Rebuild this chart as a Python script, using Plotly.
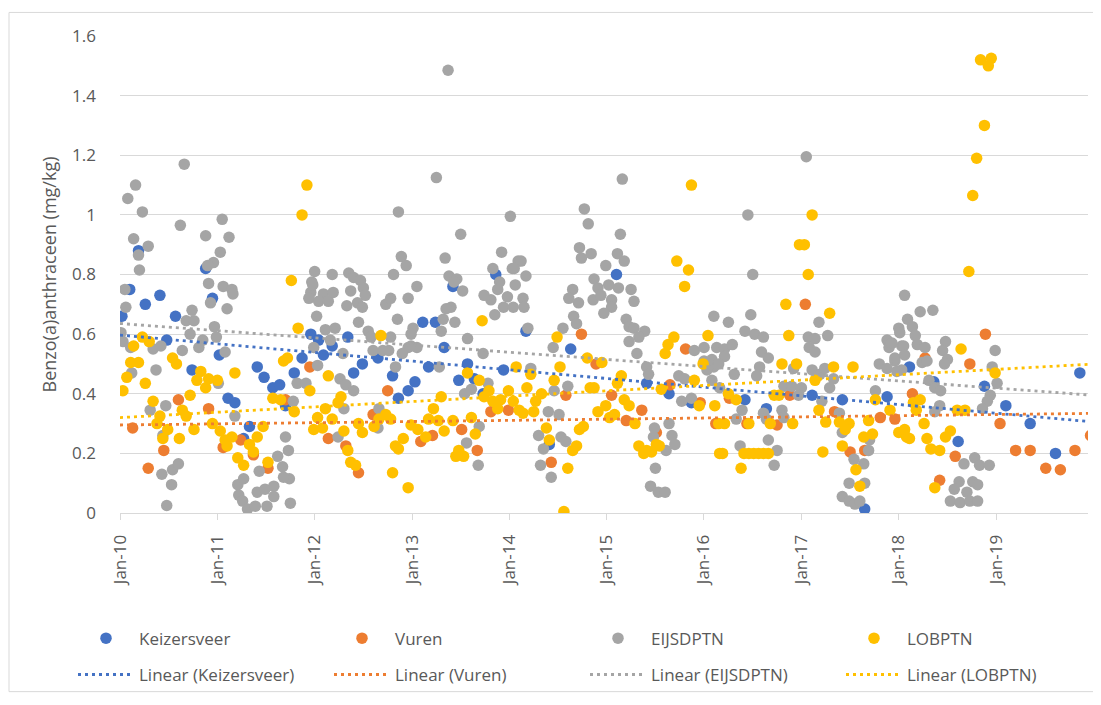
import numpy as np
import pandas as pd
import plotly.graph_objects as go

# ---------------- data (decimal year, mg/kg) ----------------
KEIZ_YEAR = [2010.02, 2010.10, 2010.19, 2010.26, 2010.41, 2010.48, 2010.57, 2010.74, 2010.88, 2010.95,
             2011.02, 2011.11, 2011.18, 2011.27, 2011.33, 2011.41, 2011.48, 2011.57, 2011.64, 2011.70,
             2011.79, 2011.87, 2011.96, 2012.04, 2012.09, 2012.18, 2012.34, 2012.40, 2012.49, 2012.65,
             2012.80, 2012.86, 2012.96, 2013.03, 2013.11, 2013.17, 2013.24, 2013.33, 2013.42, 2013.48,
             2013.57, 2013.64, 2013.73, 2013.86, 2013.94, 2014.17, 2014.41, 2014.63, 2015.10, 2015.41,
             2015.64, 2015.87, 2016.42, 2016.64, 2017.11, 2017.42, 2017.65, 2017.88, 2018.11, 2018.36,
             2018.61, 2018.88, 2019.10, 2019.35, 2019.61, 2019.86]
KEIZ_VAL = [0.66, 0.75, 0.88, 0.70, 0.73, 0.58, 0.66, 0.48, 0.82, 0.72,
            0.53, 0.385, 0.37, 0.25, 0.29, 0.49, 0.455, 0.42, 0.43, 0.36,
            0.47, 0.52, 0.60, 0.58, 0.53, 0.56, 0.59, 0.47, 0.50, 0.52,
            0.46, 0.385, 0.41, 0.44, 0.64, 0.49, 0.64, 0.555, 0.76, 0.445,
            0.50, 0.45, 0.40, 0.80, 0.48, 0.61, 0.23, 0.55, 0.80, 0.435,
            0.40, 0.37, 0.38, 0.35, 0.395, 0.38, 0.013, 0.39, 0.49, 0.44,
            0.24, 0.425, 0.36, 0.30, 0.20, 0.47]

VUREN_YEAR = [2010.13, 2010.29, 2010.45, 2010.60, 2010.91, 2011.06, 2011.24, 2011.37, 2011.52, 2011.70,
              2011.95, 2012.14, 2012.32, 2012.45, 2012.60, 2012.75, 2013.09, 2013.21, 2013.51, 2013.67,
              2013.81, 2013.99, 2014.43, 2014.58, 2014.74, 2014.89, 2015.05, 2015.20, 2015.36, 2015.51,
              2015.65, 2015.81, 2015.96, 2016.12, 2016.26, 2016.44, 2016.75, 2016.88, 2017.04, 2017.34,
              2017.50, 2017.65, 2017.81, 2017.96, 2018.14, 2018.27, 2018.42, 2018.58, 2018.73, 2018.89,
              2019.04, 2019.20, 2019.35, 2019.51, 2019.66, 2019.81, 2019.97]
VUREN_VAL = [0.285, 0.15, 0.21, 0.38, 0.35, 0.22, 0.245, 0.195, 0.15, 0.38,
             0.49, 0.25, 0.225, 0.135, 0.33, 0.41, 0.24, 0.26, 0.28, 0.21,
             0.34, 0.345, 0.17, 0.395, 0.60, 0.50, 0.395, 0.31, 0.345, 0.27,
             0.43, 0.55, 0.37, 0.30, 0.385, 0.30, 0.295, 0.395, 0.70, 0.34,
             0.205, 0.21, 0.32, 0.315, 0.40, 0.52, 0.11, 0.19, 0.50, 0.60,
             0.30, 0.21, 0.21, 0.15, 0.145, 0.21, 0.26]

EIJS_YEAR = [2010.66, 2010.16, 2010.08, 2010.23, 2010.62, 2011.05, 2010.88, 2011.12, 2010.14, 2010.29,
             2010.19, 2010.20, 2011.03, 2010.96, 2010.90, 2010.91, 2011.06, 2011.15, 2011.16, 2010.05,
             2010.06, 2010.93, 2011.10, 2010.74, 2010.68, 2010.76, 2010.72, 2010.97, 2010.99, 2010.85,
             2010.81, 2010.64, 2011.08, 2010.01, 2010.03, 2010.11, 2010.34, 2010.42, 2010.37, 2010.12,
             2011.01, 2010.31, 2010.47, 2011.18, 2010.43, 2010.54, 2010.60, 2010.53, 2010.48, 2011.21,
             2011.27, 2011.22, 2011.26, 2011.31, 2011.39, 2011.41, 2011.49, 2011.51, 2011.58, 2011.58,
             2011.43, 2011.62, 2011.67, 2011.73, 2011.70, 2011.74, 2011.75, 2011.68, 2011.82, 2011.91,
             2011.78, 2012.00, 2011.97, 2011.96, 2011.94, 2012.02, 2011.99, 2012.03, 2010.44,
             2013.25, 2012.86, 2014.01, 2013.50, 2012.89, 2012.94, 2013.34, 2013.92, 2014.09, 2012.18,
             2012.35, 2012.40, 2012.47, 2012.50, 2012.52, 2012.81, 2013.05, 2013.38, 2013.46, 2013.43,
             2013.52, 2013.83, 2013.90, 2013.88, 2014.03, 2014.06, 2013.81, 2013.74, 2013.98, 2013.94,
             2014.04, 2013.85, 2011.98, 2012.09, 2012.04, 2012.14, 2012.19, 2012.37, 2012.33, 2012.44,
             2012.49, 2012.73, 2012.78, 2012.96, 2012.85, 2012.45, 2012.11, 2012.21, 2012.55, 2012.58,
             2012.78, 2013.01, 2012.99, 2012.99, 2013.05, 2012.96, 2013.32, 2013.40, 2013.44, 2013.35,
             2013.30, 2013.57, 2013.73, 2012.16, 2012.29, 2012.60, 2012.70, 2012.76, 2012.90, 2012.83,
             2013.28, 2012.26, 2012.32, 2012.40, 2012.30, 2012.24, 2012.66, 2012.65, 2013.54, 2013.61,
             2013.78, 2013.69, 2013.56, 2013.68, 2013.37,
             2015.16, 2014.77, 2014.81, 2015.14, 2014.72, 2014.84, 2014.74, 2015.11, 2015.18, 2014.12,
             2014.05, 2014.17, 2014.14, 2014.15, 2014.99, 2014.87, 2014.91, 2015.02, 2015.12, 2015.25,
             2014.86, 2014.94, 2015.05, 2015.05, 2014.97, 2015.28, 2014.65, 2014.61, 2014.71, 2014.66,
             2014.69, 2014.55, 2014.45, 2015.20, 2015.23, 2015.28, 2015.39, 2015.33, 2015.23, 2015.31,
             2014.19, 2014.22, 2014.60, 2014.46, 2014.40, 2014.51, 2014.30, 2014.35, 2014.32, 2014.43,
             2014.53, 2014.58, 2015.41, 2015.43, 2015.49, 2015.48, 2015.50, 2015.45, 2015.53, 2015.60,
             2015.64, 2015.67, 2015.70, 2015.61, 2015.74, 2015.80, 2015.77, 2015.87, 2016.10, 2015.90,
             2016.00, 2016.13, 2016.00, 2016.10, 2016.08, 2016.16,
             2017.05, 2016.45, 2016.50, 2016.25, 2016.48, 2016.42, 2016.52, 2016.61, 2016.59, 2016.66,
             2017.18, 2017.27, 2017.07, 2017.14, 2017.08, 2017.14, 2016.21, 2016.29, 2016.08, 2016.21,
             2016.15, 2016.03, 2016.31, 2016.57, 2016.54, 2016.82, 2016.90, 2016.92, 2017.00, 2016.97,
             2017.11, 2017.19, 2017.24, 2017.33, 2017.29, 2017.21, 2017.39, 2016.39, 2016.61, 2016.64,
             2016.80, 2016.82, 2016.33, 2016.37, 2016.66, 2016.75, 2016.72, 2017.42, 2017.54, 2017.64,
             2017.65, 2017.49, 2017.42, 2017.49, 2017.55, 2017.60, 2017.70, 2017.69, 2017.76, 2017.80,
             2017.88, 2017.90, 2018.00, 2018.06, 2018.09, 2018.03, 2017.96, 2017.88, 2018.03,
             2018.22, 2018.35, 2018.14, 2018.01, 2018.17, 2017.93, 2018.05, 2018.19, 2018.27, 2017.96,
             2018.06, 2018.24, 2018.29, 2018.48, 2018.45, 2018.50, 2018.47, 2017.98, 2018.31, 2018.37,
             2018.43, 2018.42, 2018.37, 2018.99, 2018.96, 2019.01, 2018.94, 2018.91, 2018.86, 2018.67,
             2018.78, 2018.83, 2018.93, 2018.62, 2018.57, 2018.53, 2018.63, 2018.76, 2018.70, 2018.73,
             2018.81, 2018.81]
EIJS_VAL = [1.17, 1.10, 1.055, 1.01, 0.965, 0.985, 0.93, 0.925, 0.92, 0.895,
            0.865, 0.815, 0.875, 0.84, 0.83, 0.77, 0.76, 0.75, 0.735, 0.75,
            0.69, 0.705, 0.685, 0.68, 0.645, 0.645, 0.60, 0.625, 0.59, 0.58,
            0.555, 0.545, 0.54, 0.605, 0.575, 0.555, 0.55, 0.56, 0.48, 0.47,
            0.435, 0.345, 0.36, 0.325, 0.13, 0.145, 0.165, 0.095, 0.025, 0.095,
            0.115, 0.06, 0.04, 0.013, 0.023, 0.07, 0.08, 0.023, 0.09, 0.055,
            0.14, 0.19, 0.155, 0.21, 0.255, 0.115, 0.033, 0.12, 0.435, 0.435,
            0.375, 0.81, 0.775, 0.74, 0.72, 0.66, 0.555, 0.495, 0.26,
            1.125, 1.01, 0.995, 0.935, 0.86, 0.83, 0.855, 0.875, 0.845, 0.80,
            0.805, 0.79, 0.78, 0.755, 0.73, 0.80, 0.76, 0.795, 0.785, 0.775,
            0.745, 0.82, 0.775, 0.75, 0.82, 0.765, 0.715, 0.73, 0.725, 0.69,
            0.69, 0.665, 0.765, 0.735, 0.71, 0.71, 0.74, 0.745, 0.695, 0.705,
            0.69, 0.70, 0.72, 0.72, 0.65, 0.64, 0.615, 0.62, 0.61, 0.59,
            0.59, 0.62, 0.60, 0.56, 0.555, 0.555, 0.65, 0.69, 0.64, 0.685,
            0.61, 0.585, 0.535, 0.58, 0.535, 0.545, 0.545, 0.545, 0.535, 0.49,
            0.49, 0.45, 0.43, 0.41, 0.35, 0.255, 0.35, 0.285, 0.40, 0.415,
            0.435, 0.29, 0.235, 0.16, 1.485,
            1.12, 1.02, 0.97, 0.935, 0.89, 0.87, 0.855, 0.87, 0.845, 0.845,
            0.82, 0.795, 0.72, 0.69, 0.83, 0.785, 0.755, 0.765, 0.755, 0.75,
            0.715, 0.73, 0.715, 0.69, 0.67, 0.71, 0.75, 0.72, 0.705, 0.66,
            0.635, 0.62, 0.555, 0.65, 0.625, 0.62, 0.61, 0.59, 0.575, 0.535,
            0.62, 0.485, 0.425, 0.41, 0.34, 0.33, 0.26, 0.215, 0.16, 0.12,
            0.255, 0.24, 0.49, 0.465, 0.285, 0.255, 0.15, 0.09, 0.07, 0.07,
            0.30, 0.26, 0.23, 0.21, 0.46, 0.45, 0.375, 0.385, 0.66, 0.545,
            0.555, 0.555, 0.51, 0.49, 0.445, 0.42,
            1.195, 1.0, 0.80, 0.64, 0.665, 0.61, 0.60, 0.59, 0.54, 0.52,
            0.64, 0.595, 0.59, 0.585, 0.555, 0.54, 0.55, 0.565, 0.515, 0.525,
            0.50, 0.48, 0.465, 0.49, 0.46, 0.425, 0.425, 0.485, 0.42, 0.395,
            0.48, 0.465, 0.485, 0.45, 0.42, 0.375, 0.335, 0.345, 0.335, 0.315,
            0.345, 0.32, 0.315, 0.225, 0.245, 0.21, 0.16, 0.27, 0.18, 0.165,
            0.10, 0.10, 0.055, 0.04, 0.03, 0.04, 0.245, 0.21, 0.41, 0.50,
            0.58, 0.555, 0.62, 0.73, 0.65, 0.56, 0.51, 0.485, 0.48,
            0.675, 0.68, 0.625, 0.605, 0.595, 0.57, 0.56, 0.565, 0.555, 0.52,
            0.53, 0.505, 0.51, 0.575, 0.545, 0.515, 0.50, 0.475, 0.445, 0.42,
            0.41, 0.36, 0.34, 0.545, 0.49, 0.435, 0.395, 0.375, 0.35, 0.165,
            0.185, 0.16, 0.16, 0.105, 0.08, 0.04, 0.035, 0.105, 0.07, 0.04,
            0.04, 0.095]

LOB_YEAR = [2011.92, 2011.87, 2011.76, 2011.83, 2010.23, 2010.30, 2010.14, 2010.11, 2010.19, 2010.07,
            2010.03, 2010.26, 2010.54, 2010.58, 2010.34, 2010.41, 2010.38, 2010.49, 2010.44, 2010.61,
            2010.64, 2010.68, 2010.72, 2010.76, 2010.83, 2010.79, 2010.88, 2010.91, 2011.00, 2011.18,
            2010.95, 2011.03, 2011.08, 2011.15, 2011.10, 2011.21, 2011.27, 2011.33, 2011.37, 2011.41,
            2011.47, 2011.52, 2011.57, 2011.65, 2011.79, 2011.68, 2011.72, 2011.95, 2011.99, 2012.03,
            2012.14, 2012.11, 2012.08, 2012.18, 2012.24, 2012.27, 2012.30, 2012.34, 2012.37, 2012.42,
            2012.45, 2012.49, 2012.61, 2012.66, 2012.68, 2012.73, 2012.78, 2012.80, 2012.83, 2012.86,
            2012.91, 2012.96, 2012.99, 2013.06, 2013.14, 2013.17, 2013.22, 2013.27, 2013.30, 2013.33,
            2013.42, 2013.45, 2013.48, 2013.53, 2013.57, 2013.61, 2013.65, 2013.69, 2013.72, 2013.74,
            2013.79, 2013.83, 2013.88, 2013.91, 2013.99, 2014.04, 2014.07, 2014.10,
            2015.87, 2015.72, 2015.84, 2015.80, 2014.14, 2014.18, 2014.22, 2014.27, 2014.25, 2014.33,
            2014.38, 2014.41, 2014.46, 2014.49, 2014.52, 2014.56, 2014.60, 2014.65, 2014.69, 2014.72,
            2014.76, 2014.80, 2014.83, 2014.87, 2014.95, 2014.91, 2014.99, 2015.03, 2015.08, 2015.11,
            2015.15, 2015.18, 2015.23, 2015.29, 2015.33, 2015.38, 2015.41, 2015.46, 2015.51, 2015.54,
            2015.56, 2015.60, 2015.63, 2015.69, 2015.90, 2015.95, 2015.99, 2016.04, 2016.11, 2016.15,
            2016.16,
            2017.11, 2016.98, 2017.03, 2017.07, 2016.84, 2017.29, 2016.87, 2016.80, 2016.95, 2017.33,
            2017.53, 2017.14, 2016.25, 2016.33, 2016.72, 2016.77, 2016.21, 2016.46, 2016.68, 2016.91,
            2017.18, 2017.25, 2017.39, 2017.45, 2017.49, 2017.69, 2017.64, 2017.73, 2016.19, 2016.38,
            2016.41, 2016.46, 2016.51, 2016.56, 2016.61, 2016.66, 2017.22, 2017.42, 2017.56, 2017.60,
            2017.76, 2017.91, 2018.00, 2018.08,
            2018.84, 2018.95, 2018.92, 2018.88, 2018.80, 2018.76, 2018.72, 2018.64, 2018.99, 2018.15,
            2018.22, 2018.18, 2018.26, 2018.06, 2018.11, 2018.29, 2018.33, 2018.42, 2018.48, 2018.53,
            2018.37, 2018.60, 2018.68]
LOB_VAL = [1.10, 1.0, 0.78, 0.62, 0.59, 0.575, 0.56, 0.505, 0.505, 0.455,
           0.41, 0.435, 0.52, 0.50, 0.375, 0.325, 0.30, 0.28, 0.25, 0.25,
           0.345, 0.325, 0.395, 0.28, 0.475, 0.445, 0.42, 0.45, 0.445, 0.47,
           0.30, 0.275, 0.245, 0.255, 0.225, 0.185, 0.16, 0.23, 0.205, 0.255,
           0.29, 0.17, 0.385, 0.38, 0.34, 0.51, 0.52, 0.41, 0.28, 0.32,
           0.46, 0.35, 0.285, 0.315, 0.37, 0.39, 0.275, 0.21, 0.17, 0.16,
           0.30, 0.27, 0.29, 0.315, 0.595, 0.33, 0.315, 0.135, 0.225, 0.215,
           0.25, 0.085, 0.295, 0.28, 0.255, 0.315, 0.35, 0.31, 0.39, 0.275,
           0.31, 0.19, 0.21, 0.19, 0.47, 0.32, 0.265, 0.445, 0.645, 0.39,
           0.41, 0.375, 0.35, 0.38, 0.41, 0.375, 0.49, 0.345,
           1.10, 0.845, 0.815, 0.76, 0.335, 0.42, 0.465, 0.375, 0.34, 0.40,
           0.285, 0.245, 0.445, 0.59, 0.49, 0.005, 0.15, 0.21, 0.225, 0.28,
           0.29, 0.52, 0.42, 0.42, 0.505, 0.34, 0.36, 0.32, 0.33, 0.435,
           0.46, 0.38, 0.36, 0.30, 0.225, 0.20, 0.21, 0.205, 0.23, 0.225,
           0.415, 0.535, 0.565, 0.59, 0.445, 0.36, 0.50, 0.595, 0.36, 0.30,
           0.20,
           1.0, 0.90, 0.90, 0.80, 0.70, 0.67, 0.595, 0.50, 0.50, 0.49,
           0.49, 0.445, 0.40, 0.38, 0.395, 0.395, 0.30, 0.30, 0.30, 0.30,
           0.345, 0.305, 0.305, 0.28, 0.30, 0.31, 0.255, 0.265, 0.20, 0.15,
           0.20, 0.20, 0.20, 0.20, 0.20, 0.20, 0.205, 0.225, 0.145, 0.09,
           0.38, 0.345, 0.27, 0.255,
           1.52, 1.525, 1.50, 1.30, 1.19, 1.065, 0.81, 0.55, 0.47, 0.37,
           0.38, 0.345, 0.30, 0.28, 0.25, 0.25, 0.215, 0.21, 0.255, 0.275,
           0.085, 0.345, 0.345]

SERIES = ["Keizersveer", "Vuren", "EIJSDPTN", "LOBPTN"]
COLORS = ["#4472C4", "#ED7D31", "#A5A5A5", "#FFC000"]
X_START, X_END = "2010-01-01", "2019-12-12"

# ---------------- helpers ----------------
BASE = pd.Timestamp("2010-01-01")


def to_dates(years):
    y = np.asarray(years, dtype=float)
    return BASE + pd.to_timedelta((y - 2010.0) * 365.25, unit="D")


def to_year(ts):
    return 2010.0 + (pd.Timestamp(ts) - BASE).total_seconds() / 86400.0 / 365.25


data = [(KEIZ_YEAR, KEIZ_VAL), (VUREN_YEAR, VUREN_VAL), (EIJS_YEAR, EIJS_VAL), (LOB_YEAR, LOB_VAL)]

FONT = "Open Sans"
TXT = "#595959"

fig = go.Figure()
for name, col, (yrs, vals) in zip(SERIES, COLORS, data):
    fig.add_trace(go.Scatter(
        x=to_dates(yrs), y=vals, mode="markers", name=name,
        marker=dict(size=11.5, color=col, line=dict(width=0)),
        legend="legend",
    ))

x0, x1 = to_year(X_START), to_year(X_END)
for name, col, (yrs, vals) in zip(SERIES, COLORS, data):
    slope, icpt = np.polyfit(np.asarray(yrs, float), np.asarray(vals, float), 1)
    xs = [x0, x1]
    fig.add_trace(go.Scatter(
        x=to_dates(xs), y=[icpt + slope * v for v in xs], mode="lines",
        name=f"Linear ({name})",
        line=dict(color=col, width=2.8, dash="3px,4px"),
        legend="legend2", hoverinfo="skip",
    ))

# The page body has an 8px default margin, so the figure is laid out in
# coordinates shifted by 8px from the screenshot.
OFF = 8
W, H = 1101 - OFF, 705 - OFF
PLOT_L, PLOT_R, PLOT_T, PLOT_B = 120 - OFF, 1088 - OFF, 36 - OFF, 522 - OFF
L, R, T, B = PLOT_L, W - PLOT_R, PLOT_T, H - PLOT_B
pw, ph = W - L - R, H - T - B


def px_to_paper_x(px):
    return (px - OFF - L) / pw


def px_to_paper_y(py):
    return (H - B - (py - OFF)) / ph


fig.update_layout(
    width=W, height=H,
    margin=dict(l=L, r=R, t=T, b=B),
    paper_bgcolor="white", plot_bgcolor="white",
    font=dict(family=FONT, size=17, color=TXT),
    showlegend=True,
    legend=dict(
        orientation="h", x=px_to_paper_x(73), y=px_to_paper_y(650),
        xanchor="left", yanchor="middle",
        entrywidth=185, entrywidthmode="pixels", itemwidth=56,
        font=dict(family=FONT, size=17, color=TXT), bgcolor="rgba(0,0,0,0)",
    ),
    legend2=dict(
        orientation="h", x=px_to_paper_x(73), y=px_to_paper_y(687),
        xanchor="left", yanchor="middle",
        entrywidth=185, entrywidthmode="pixels", itemwidth=56,
        font=dict(family=FONT, size=17, color=TXT), bgcolor="rgba(0,0,0,0)",
    ),
    xaxis=dict(
        type="date", range=[X_START, X_END], automargin=False,
        tick0="2010-01-01", dtick="M12", tickformat="%b-%y",
        tickangle=-90, showgrid=False, zeroline=False,
        showline=True, linecolor="#D9D9D9", linewidth=1,
        ticks="outside", ticklen=6, tickcolor="#D9D9D9",
        tickfont=dict(family=FONT, size=17, color=TXT),
        ticklabelstandoff=8,
    ),
    yaxis=dict(
        range=[0, 1.6], dtick=0.2, tick0=0, automargin=False,
        showgrid=True, gridcolor="#D9D9D9", gridwidth=1,
        zeroline=False, showline=False, ticks="",
        tickfont=dict(family=FONT, size=17, color=TXT),
        ticklabelstandoff=23,
        title=dict(text="Benzo(a)anthraceen (mg/kg)", standoff=10,
                   font=dict(family=FONT, size=18, color=TXT)),
    ),
    shapes=[dict(
        type="rect", xref="paper", yref="paper",
        x0=px_to_paper_x(9), x1=px_to_paper_x(1100.5),
        y0=px_to_paper_y(704), y1=px_to_paper_y(12),
        line=dict(color="#D9D9D9", width=1), fillcolor="rgba(0,0,0,0)", layer="below",
    )],
)

fig.write_html("out.html")
